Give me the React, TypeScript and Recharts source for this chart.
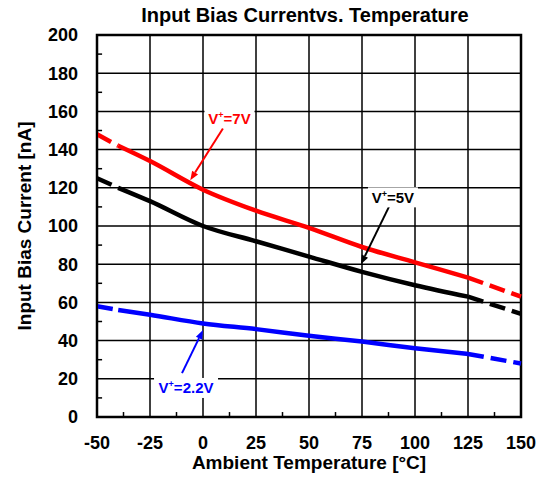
import {
  LineChart,
  Line,
  XAxis,
  YAxis,
  CartesianGrid,
  ReferenceArea,
  ReferenceLine,
  ReferenceDot,
} from "recharts";

// ─── Data ────────────────────────────────────────────────
const temps = [-50, -40, -25, 0, 25, 50, 75, 100, 125, 150];
const v7 = [148, 142, 134, 119, 108, 99, 89, 81, 73, 63];
const v5 = [125, 120, 113, 100, 92, 84, 76, 69, 63, 54];
const v22 = [58, 56, 53.5, 49, 46, 42.5, 39.5, 36, 33, 28];

const xTicks = [-50, -25, 0, 25, 50, 75, 100, 125, 150];
const xMinorTicks = [-37.5, -12.5, 12.5, 37.5, 62.5, 87.5, 112.5, 137.5];
const yTicks = [0, 20, 40, 60, 80, 100, 120, 140, 160, 180, 200];
const yMinorTicks = [10, 30, 50, 70, 90, 110, 130, 150, 170, 190];

// solid between -40 and 125, dashed at both ends
const SOLID_FROM = -40;
const SOLID_TO = 125;

const data = temps.map((t, i) => {
  const solid = t >= SOLID_FROM && t <= SOLID_TO;
  const dashed = t <= SOLID_FROM || t >= SOLID_TO;
  return {
    t,
    r: solid ? v7[i] : null,
    rd: dashed ? v7[i] : null,
    k: solid ? v5[i] : null,
    kd: dashed ? v5[i] : null,
    b: solid ? v22[i] : null,
    bd: dashed ? v22[i] : null,
  };
});

// annotations: label position, arrow tail, arrow tip (data coords)
const notes = [
  { label: "7V", color: "#ff0000", lx: 12.5, ly: 156.5, tail: [9.4, 151], tip: [-6, 124] },
  { label: "5V", color: "#000000", lx: 89.6, ly: 115, tail: [87.7, 110], tip: [74.5, 80] },
  { label: "2.2V", color: "#0000ff", lx: -8, ly: 15.2, tail: [-9.9, 23], tip: [0, 45.5] },
];

const FONT = "'Liberation Sans', Arial, sans-serif";

// ─── Pieces ──────────────────────────────────────────────
function Arrow(props: any) {
  const { x1, y1, x2, y2, stroke } = props;
  const a = Math.atan2(y2 - y1, x2 - x1);
  const len = 9;
  const w = 3.5;
  const bx = x2 - len * Math.cos(a);
  const by = y2 - len * Math.sin(a);
  const px = -Math.sin(a) * w;
  const py = Math.cos(a) * w;
  return (
    <g>
      <line x1={x1} y1={y1} x2={bx} y2={by} stroke={stroke} strokeWidth={2} />
      <polygon
        points={`${x2},${y2} ${bx + px},${by + py} ${bx - px},${by - py}`}
        fill={stroke}
      />
    </g>
  );
}

function NoteLabel({ cx, cy, label, color }: any) {
  const w = label.length > 2 ? 64 : 50;
  return (
    <g>
      <rect x={cx - w / 2} y={cy - 10} width={w} height={20} fill="#fff" />
      <text
        x={cx}
        y={cy + 5.5}
        textAnchor="middle"
        fill={color}
        fontFamily={FONT}
        fontWeight="bold"
        fontSize={15}
      >
        V<tspan fontSize={9} dy={-6}>+</tspan>
        <tspan dy={6}>={label}</tspan>
      </text>
    </g>
  );
}

const tickStyle = { fontSize: 18, fontWeight: "bold", fill: "#000", fontFamily: FONT };
const labelStyle = { fontSize: 19, fontWeight: "bold", fill: "#000", fontFamily: FONT };

// ─── Component ───────────────────────────────────────────
export default function App() {
  return (
    <div style={{ position: "absolute", left: 0, top: 0, width: 545, height: 486, background: "#fff", fontFamily: FONT }}>
      <div
        style={{
          position: "absolute",
          left: 0,
          width: 610,
          top: 4,
          textAlign: "center",
          fontSize: 20,
          fontWeight: "bold",
          whiteSpace: "nowrap",
        }}
      >
        Input Bias Currentvs. Temperature
      </div>
      <LineChart width={545} height={486} data={data} margin={{ top: 35, right: 24, left: 0, bottom: 0 }}>
        <CartesianGrid stroke="#000" strokeWidth={1.5} />
        <XAxis
          dataKey="t"
          type="number"
          domain={[-50, 150]}
          ticks={xTicks}
          height={69}
          tick={tickStyle}
          tickLine={false}
          axisLine={{ stroke: "#000", strokeWidth: 2 }}
          tickMargin={13}
          interval={0}
          label={{
            value: "Ambient Temperature [°C]",
            position: "insideBottom",
            offset: 17,
            style: labelStyle,
          }}
        />
        <YAxis
          type="number"
          domain={[0, 200]}
          ticks={yTicks}
          width={97}
          tick={tickStyle}
          tickLine={false}
          axisLine={{ stroke: "#000", strokeWidth: 2 }}
          tickMargin={13}
          interval={0}
          label={{
            value: "Input Bias Current [nA]",
            angle: -90,
            position: "insideLeft",
            offset: 24,
            style: { ...labelStyle, textAnchor: "middle" },
          }}
        />
        <ReferenceArea x1={-50} x2={150} y1={0} y2={200} fill="none" stroke="#000" strokeWidth={2.5} />

        {/* inward minor ticks */}
        {xMinorTicks.map((t) => (
          <ReferenceLine
            key={"xm" + t}
            segment={[
              { x: t, y: 0 },
              { x: t, y: 2.6 },
            ]}
            stroke="#000"
            strokeWidth={1.5}
          />
        ))}
        {yMinorTicks.map((v) => (
          <ReferenceLine
            key={"ym" + v}
            segment={[
              { x: -50, y: v },
              { x: -47.6, y: v },
            ]}
            stroke="#000"
            strokeWidth={1.5}
          />
        ))}

        <Line type="monotone" dataKey="r" stroke="#ff0000" strokeWidth={4.5} dot={false} isAnimationActive={false} />
        <Line type="monotone" dataKey="rd" stroke="#ff0000" strokeWidth={4.5} strokeDasharray="16 7" dot={false} isAnimationActive={false} />
        <Line type="monotone" dataKey="k" stroke="#000000" strokeWidth={4.5} dot={false} isAnimationActive={false} />
        <Line type="monotone" dataKey="kd" stroke="#000000" strokeWidth={4.5} strokeDasharray="16 7" dot={false} isAnimationActive={false} />
        <Line type="monotone" dataKey="b" stroke="#0000ff" strokeWidth={4.5} dot={false} isAnimationActive={false} />
        <Line type="monotone" dataKey="bd" stroke="#0000ff" strokeWidth={4.5} strokeDasharray="16 7" dot={false} isAnimationActive={false} />

        {notes.map((n) => (
          <ReferenceLine
            key={"a" + n.label}
            segment={[
              { x: n.tail[0], y: n.tail[1] },
              { x: n.tip[0], y: n.tip[1] },
            ]}
            stroke={n.color}
            shape={(p: any) => <Arrow {...p} stroke={n.color} />}
          />
        ))}
        {notes.map((n) => (
          <ReferenceDot
            key={"l" + n.label}
            x={n.lx}
            y={n.ly}
            r={1}
            shape={(p: any) => <NoteLabel cx={p.cx} cy={p.cy} label={n.label} color={n.color} />}
          />
        ))}
      </LineChart>
    </div>
  );
}
